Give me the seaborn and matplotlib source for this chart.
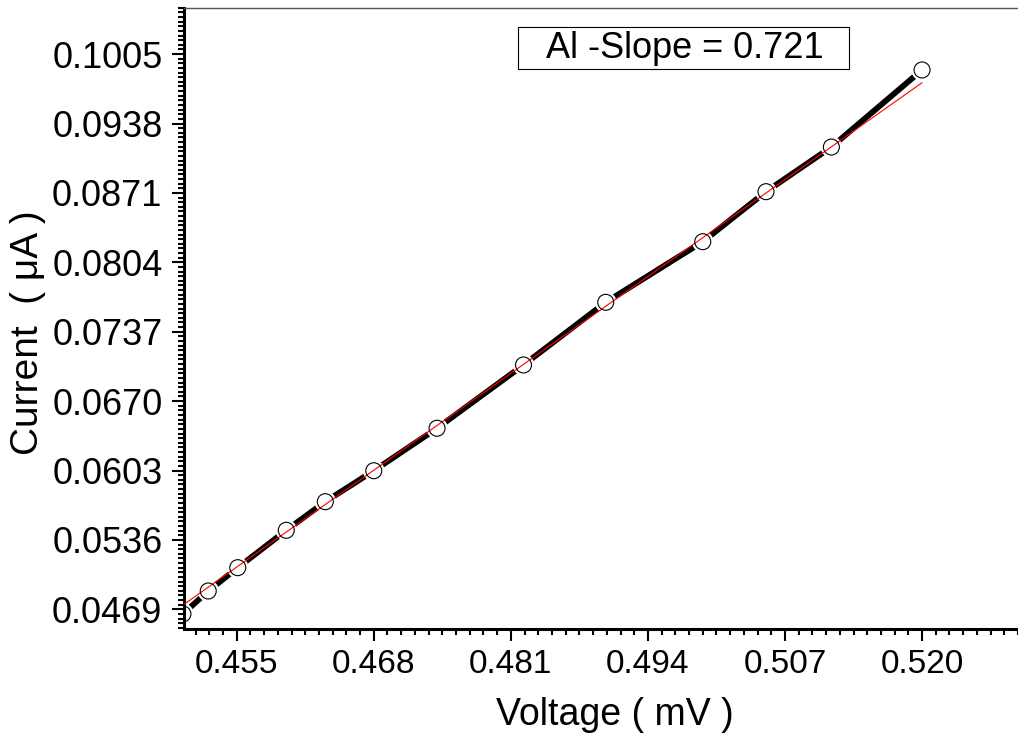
import matplotlib
matplotlib.use('Agg')
import matplotlib.pyplot as plt
import matplotlib.patches as patches
from matplotlib.ticker import FixedLocator, AutoMinorLocator
import seaborn as sns
import pandas as pd

# Values
voltage = [0.4499, 0.4523, 0.4551, 0.4597, 0.4634, 0.4680, 0.4740,
           0.4822, 0.4900, 0.4992, 0.5052, 0.5114, 0.5200]
current = [0.04645, 0.04867, 0.05092, 0.05453, 0.05729, 0.06028, 0.06438,
           0.07049, 0.07654, 0.08239, 0.08722, 0.09153, 0.09897]

# Linear fit line end points (red)
fit_voltage = [0.4500, 0.5200]
fit_current = [0.04738, 0.09774]

x_ticks = [0.455, 0.468, 0.481, 0.494, 0.507, 0.520]
x_tick_labels = ['0.455', '0.468', '0.481', '0.494', '0.507', '0.520']
y_ticks = [0.0469, 0.0536, 0.0603, 0.0670, 0.0737, 0.0804, 0.0871, 0.0938, 0.1005]
y_tick_labels = ['0.0469', '0.0536', '0.0603', '0.0670', '0.0737',
                 '0.0804', '0.0871', '0.0938', '0.1005']
slope_text = 'Al -Slope = 0.721'

df = pd.DataFrame({'Voltage': voltage, 'Current': current})

sns.set_style('ticks')
plt.rcParams['font.family'] = ['Liberation Sans', 'DejaVu Sans']
plt.rcParams['text.color'] = 'black'
plt.rcParams['axes.labelcolor'] = 'black'
plt.rcParams['xtick.color'] = 'black'
plt.rcParams['ytick.color'] = 'black'

fig = plt.figure(figsize=(10.18, 7.34), dpi=100)
ax = fig.add_axes([184 / 1018, 1 - 629 / 734, 1 - 184 / 1018, (629 - 7.5) / 734])

# Thick black connecting line, with gaps cut around each symbol
sns.lineplot(data=df, x='Voltage', y='Current', color='black', linewidth=4.2,
             estimator=None, sort=False, ax=ax, zorder=1)
sns.scatterplot(data=df, x='Voltage', y='Current', s=15.5 ** 2, color='white',
                edgecolor='none', ax=ax, zorder=2)
# Red fitted line
sns.lineplot(x=fit_voltage, y=fit_current, color='red', linewidth=0.8, ax=ax, zorder=3)
# Open circle symbols
sns.scatterplot(data=df, x='Voltage', y='Current', s=11.5 ** 2, facecolor='none',
                edgecolor='black', linewidth=0.8, ax=ax, zorder=4)

ax.set_xlim(0.4500, 0.5291)
ax.set_ylim(0.045, 0.105)

ax.xaxis.set_major_locator(FixedLocator(x_ticks))
ax.set_xticklabels(x_tick_labels)
ax.xaxis.set_minor_locator(AutoMinorLocator(10))
ax.yaxis.set_major_locator(FixedLocator(y_ticks))
ax.set_yticklabels(y_tick_labels)
ax.yaxis.set_minor_locator(AutoMinorLocator(15))

ax.tick_params(axis='both', which='major', length=8.5, width=1.5, colors='black')
ax.tick_params(axis='both', which='minor', length=4.5, width=1.5, colors='black')
ax.tick_params(axis='x', which='major', labelsize=24, pad=6)
ax.tick_params(axis='y', which='major', labelsize=26, pad=7)

for side in ['left', 'bottom']:
    ax.spines[side].set_linewidth(2.2)
    ax.spines[side].set_color('black')
ax.spines['top'].set_linewidth(1.0)
ax.spines['top'].set_color('#555555')
ax.spines['right'].set_visible(False)

ax.set_xlabel('Voltage ( mV )', fontsize=27, color='black')
ax.set_ylabel('Current  ( \u03bcA )', fontsize=28, color='black')
ax.xaxis.set_label_coords(0.517, -0.109)
ax.yaxis.set_label_coords(-0.165, 0.476)

# Slope annotation box
fig.patches.append(patches.Rectangle((518 / 1018, 1 - 69 / 734), 331 / 1018, 42 / 734,
                                     transform=fig.transFigure, fill=False,
                                     edgecolor='black', linewidth=0.8))
fig.text(685 / 1018, 1 - 48 / 734, slope_text, fontsize=26, ha='center', va='center',
         color='black')

fig.savefig('out.png', dpi=100)
